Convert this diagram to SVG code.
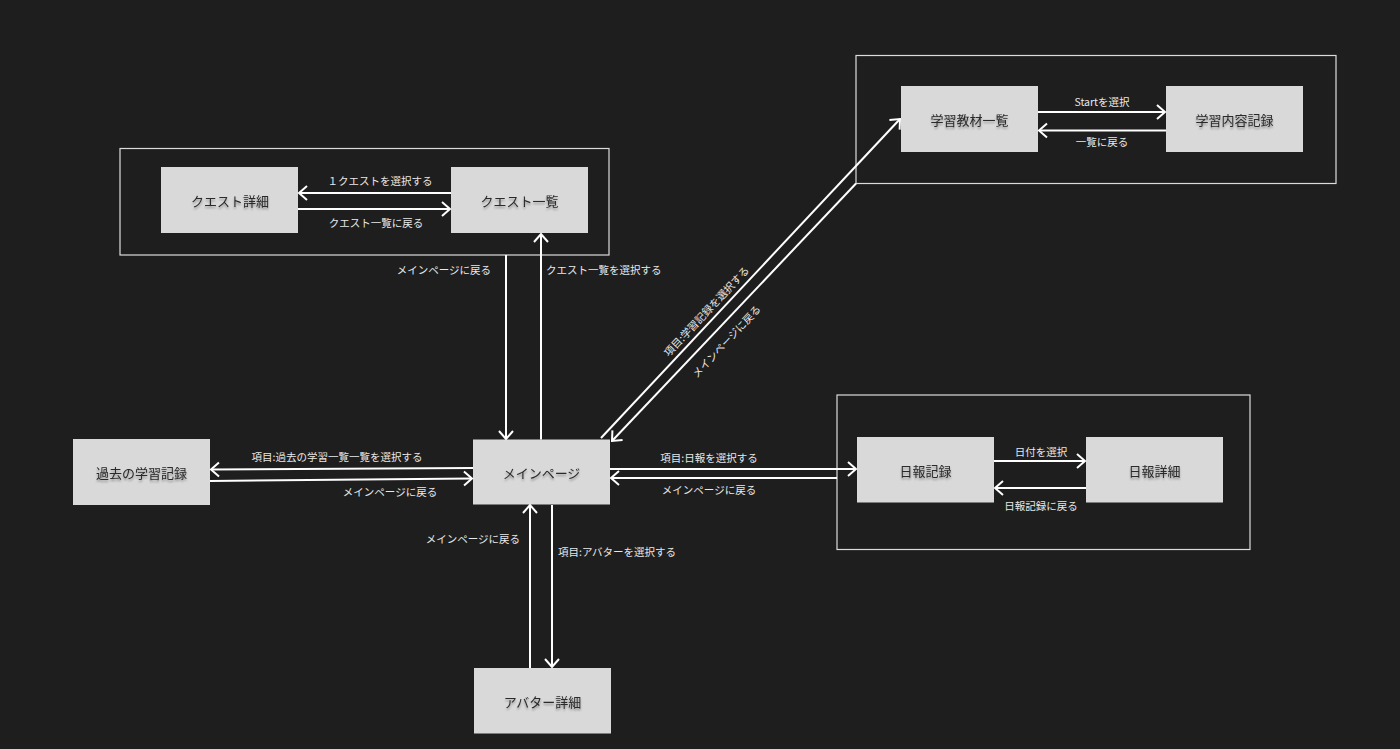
<svg xmlns="http://www.w3.org/2000/svg" width="1400" height="749" viewBox="0 0 1400 749">
  <defs>
    <marker id="ah" markerUnits="userSpaceOnUse" markerWidth="20" markerHeight="20" refX="0" refY="0" viewBox="-10 -10 20 20" orient="auto" overflow="visible">
      <path d="M-8,-7 L0,0 L-8,7" fill="none" stroke="#ffffff" stroke-width="2"/>
    </marker>
    <filter id="ts" x="-20%" y="-50%" width="140%" height="200%">
      <feGaussianBlur in="SourceAlpha" stdDeviation="1.2"/>
      <feOffset dx="0" dy="2" result="b"/>
      <feComponentTransfer><feFuncA type="linear" slope="0.35"/></feComponentTransfer>
      <feMerge><feMergeNode/><feMergeNode in="SourceGraphic"/></feMerge>
    </filter>
  </defs>
  <style>
    .frame { fill: none; stroke: #dcdcdc; stroke-width: 1.2; }
    .box { fill: #d9d9d9; }
    .bt { font-family: "Noto Sans CJK JP", "Noto Sans", sans-serif; font-size: 13px; fill: #2a2a2a; text-anchor: middle; dominant-baseline: central; }
    .lbl { font-family: "Noto Sans CJK JP", "Noto Sans", sans-serif; font-size: 10.5px; fill: #e8e8e8; dominant-baseline: central; }
    .c { fill: none; stroke: #ffffff; stroke-width: 2; marker-end: url(#ah); }
  </style>
  <rect width="1400" height="749" fill="#1e1e1e"/>

  <g id="frames">
    <rect id="frame-quest" class="frame" x="120" y="148.5" width="489" height="106.5"/>
    <rect id="frame-study" class="frame" x="856" y="55.5" width="480" height="128"/>
    <rect id="frame-daily" class="frame" x="837" y="395" width="413" height="154.5"/>
  </g>

  <g id="node-quest-detail">
    <rect class="box" x="161" y="167" width="137" height="66"/>
    <text class="bt" x="230" y="200" filter="url(#ts)">クエスト詳細</text>
  </g>
  <g id="node-quest-list">
    <rect class="box" x="451" y="167" width="137" height="66"/>
    <text class="bt" x="519.5" y="200" filter="url(#ts)">クエスト一覧</text>
  </g>
  <g id="node-study-list">
    <rect class="box" x="901" y="86" width="137" height="66"/>
    <text class="bt" x="969.5" y="119" filter="url(#ts)">学習教材一覧</text>
  </g>
  <g id="node-study-record">
    <rect class="box" x="1166" y="86" width="137" height="66"/>
    <text class="bt" x="1234.5" y="119" filter="url(#ts)">学習内容記録</text>
  </g>
  <g id="node-past">
    <rect class="box" x="73" y="439" width="137" height="66"/>
    <text class="bt" x="141.5" y="472" filter="url(#ts)">過去の学習記録</text>
  </g>
  <g id="node-main">
    <rect class="box" x="473" y="439.5" width="137" height="65"/>
    <text class="bt" x="541.5" y="472" filter="url(#ts)">メインページ</text>
  </g>
  <g id="node-daily">
    <rect class="box" x="857" y="437" width="137" height="65.5"/>
    <text class="bt" x="925.5" y="470" filter="url(#ts)">日報記録</text>
  </g>
  <g id="node-daily-detail">
    <rect class="box" x="1086" y="437" width="137" height="65.5"/>
    <text class="bt" x="1154.5" y="470" filter="url(#ts)">日報詳細</text>
  </g>
  <g id="node-avatar">
    <rect class="box" x="474" y="668" width="137" height="65.5"/>
    <text class="bt" x="542.5" y="701" filter="url(#ts)">アバター詳細</text>
  </g>

  <g id="connectors">
    <!-- quest -->
    <line class="c" x1="451" y1="193" x2="299" y2="193"/>
    <line class="c" x1="298" y1="209" x2="450" y2="209"/>
    <line class="c" x1="506" y1="255" x2="506" y2="439"/>
    <line class="c" x1="541" y1="439.5" x2="541" y2="234"/>
    <!-- study -->
    <line class="c" x1="1038" y1="112" x2="1165" y2="112"/>
    <line class="c" x1="1166" y1="130.5" x2="1039" y2="130.5"/>
    <line class="c" x1="601" y1="438" x2="900" y2="119"/>
    <line class="c" x1="856" y1="183.5" x2="612" y2="441"/>
    <!-- past -->
    <line class="c" x1="473" y1="468" x2="211" y2="469.5"/>
    <line class="c" x1="210" y1="481" x2="472" y2="478.5"/>
    <!-- daily -->
    <line class="c" x1="610" y1="469" x2="856" y2="469"/>
    <line class="c" x1="837" y1="478" x2="611" y2="478"/>
    <line class="c" x1="994" y1="461" x2="1085" y2="461"/>
    <line class="c" x1="1086" y1="488" x2="995" y2="488"/>
    <!-- avatar -->
    <line class="c" x1="530" y1="668" x2="530" y2="505"/>
    <line class="c" x1="552" y1="505" x2="552" y2="667"/>
  </g>

  <g id="labels">
    <text class="lbl" x="380" y="180" text-anchor="middle">１クエストを選択する</text>
    <text class="lbl" x="376" y="222" text-anchor="middle">クエスト一覧に戻る</text>
    <text class="lbl" x="491" y="269" text-anchor="end">メインページに戻る</text>
    <text class="lbl" x="546" y="269">クエスト一覧を選択する</text>
    <text class="lbl" x="1102" y="101" text-anchor="middle">Startを選択</text>
    <text class="lbl" x="1102" y="141" text-anchor="middle">一覧に戻る</text>
    <text class="lbl" x="0" y="0" text-anchor="middle" transform="translate(706,311) rotate(-46.8)">項目:学習記録を選択する</text>
    <text class="lbl" x="0" y="0" text-anchor="middle" transform="translate(726,341) rotate(-46.8)">メインページに戻る</text>
    <text class="lbl" x="337" y="456" text-anchor="middle">項目:過去の学習一覧一覧を選択する</text>
    <text class="lbl" x="390" y="491" text-anchor="middle">メインページに戻る</text>
    <text class="lbl" x="709" y="457" text-anchor="middle">項目:日報を選択する</text>
    <text class="lbl" x="709" y="489" text-anchor="middle">メインページに戻る</text>
    <text class="lbl" x="1041" y="451" text-anchor="middle">日付を選択</text>
    <text class="lbl" x="1041" y="505" text-anchor="middle">日報記録に戻る</text>
    <text class="lbl" x="520" y="538" text-anchor="end">メインページに戻る</text>
    <text class="lbl" x="558" y="551">項目:アバターを選択する</text>
  </g>
</svg>
